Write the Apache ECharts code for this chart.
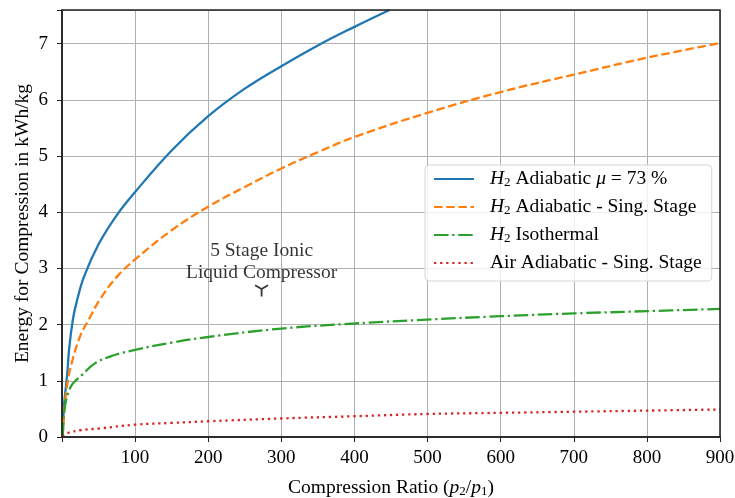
<!DOCTYPE html>
<html>
<head>
<meta charset="utf-8">
<script src="https://cdn.jsdelivr.net/npm/echarts@6/dist/echarts.min.js"></script>
<style>
  html, body { margin: 0; padding: 0; background: #fff; }
  #chart { width: 735px; height: 498px; }
</style>
</head>
<body>
<div id="chart"></div>
<script>
// values
var ratioBlue = [1, 2, 3, 5, 7, 10, 15, 20, 30, 50, 75, 100, 150, 200, 250, 300, 350, 400, 448];
var energyBlue = [0, 0.4, 0.6, 0.85, 1.1, 1.6, 2.1, 2.4, 2.85, 3.43, 3.95, 4.36, 5.1, 5.71, 6.2, 6.6, 6.97, 7.3, 7.6];

var ratioOrange = [1, 3, 8, 15, 25, 37, 52, 75, 100, 150, 200, 250, 300, 350, 400, 500, 600, 700, 800, 900];
var energyOrange = [0, 0.45, 1.0, 1.4, 1.8, 2.1, 2.45, 2.85, 3.16, 3.68, 4.1, 4.45, 4.78, 5.07, 5.34, 5.77, 6.14, 6.45, 6.75, 7.01];

var ratioGreen = [1, 2, 3, 6, 9, 13, 20, 27, 45, 70, 100, 150, 200, 300, 400, 500, 600, 700, 800, 900];
var energyGreen = [0, 0.3, 0.45, 0.68, 0.8, 0.92, 1.02, 1.1, 1.31, 1.45, 1.55, 1.68, 1.78, 1.93, 2.02, 2.09, 2.15, 2.2, 2.24, 2.28];

var ratioRed = [1, 5, 10, 25, 50, 100, 150, 200, 300, 400, 500, 600, 700, 800, 900];
var energyRed = [0, 0.05, 0.08, 0.12, 0.15, 0.22, 0.25, 0.28, 0.33, 0.37, 0.41, 0.43, 0.45, 0.47, 0.49];

var seriesNames = ['H2 Adiabatic μ = 73 %', 'H2 Adiabatic - Sing. Stage', 'H2 Isothermal', 'Air Adiabatic - Sing. Stage'];
var legendRich = {
  'H2 Adiabatic μ = 73 %': '{i|H}{s|2} Adiabatic {i|μ} = 73 %',
  'H2 Adiabatic - Sing. Stage': '{i|H}{s|2} Adiabatic - Sing. Stage',
  'H2 Isothermal': '{i|H}{s|2} Isothermal',
  'Air Adiabatic - Sing. Stage': 'Air Adiabatic - Sing. Stage'
};

var ionicPoint = [273, 2.6];
var ionicText = '5 Stage Ionic\nLiquid Compressor';

function zip(xs, ys) {
  var out = [];
  for (var i = 0; i < xs.length; i++) out.push([xs[i], ys[i]]);
  return out;
}

var serif = '"Liberation Serif", "DejaVu Serif", serif';
var fs = 19.5;
var richStyles = {
  i: { fontStyle: 'italic', fontFamily: serif, fontSize: fs, color: '#000', lineHeight: 20 },
  s: { fontFamily: serif, fontSize: 13, color: '#000', lineHeight: 20, padding: [7, 0, 0, 0] }
};

function lineSeries(name, data, color, dash) {
  return {
    name: name,
    type: 'line',
    data: data,
    smooth: 0.4,
    symbol: 'none',
    clip: true,
    lineStyle: { color: color, width: 2.3, type: dash, cap: 'butt' },
    itemStyle: { color: color },
    z: 3
  };
}

var chart = echarts.init(document.getElementById('chart'));
var option = {
  animation: false,
  backgroundColor: '#fff',
  grid: {
    left: 62,
    right: 15,
    top: 10,
    bottom: 61,
    outerBoundsMode: 'none',
    show: true,
    borderColor: '#222',
    borderWidth: 1.5,
    z: 5
  },
  legend: {
    data: seriesNames,
    orient: 'vertical',
    left: 425,
    top: 165,
    padding: [4, 10, 8, 8],
    itemWidth: 40,
    itemHeight: 14,
    itemGap: 8,
    itemStyle: { opacity: 0 },
    backgroundColor: 'rgba(255,255,255,0.8)',
    borderColor: '#d5d5d5',
    borderWidth: 1,
    borderRadius: 4,
    formatter: function (name) { return legendRich[name]; },
    textStyle: {
      fontFamily: serif,
      fontSize: fs,
      lineHeight: 20,
      color: '#000',
      padding: [0, 0, 0, 11],
      rich: richStyles
    }
  },
  xAxis: {
    type: 'value',
    min: 0,
    max: 900,
    interval: 100,
    name: 'Compression Ratio ({i|p}{s|2}/{i|p}{s|1})',
    nameLocation: 'middle',
    nameGap: 41,
    nameMoveOverlap: false,
    nameTextStyle: { fontFamily: serif, fontSize: fs, lineHeight: 20, color: '#000', rich: richStyles },
    axisLine: { show: true, onZero: false, lineStyle: { color: '#222', width: 1.5 } },
    axisTick: { show: true, length: 5, lineStyle: { color: '#222', width: 1 } },
    axisLabel: {
      margin: 12,
      fontFamily: serif,
      fontSize: 19,
      color: '#000',
      formatter: function (v) { return v === 0 ? '' : String(v); }
    },
    splitLine: { show: true, lineStyle: { color: '#b0b0b0', width: 1 } }
  },
  yAxis: {
    type: 'value',
    min: 0,
    max: 7.6,
    interval: 1,
    name: 'Energy for Compression in kWh/kg',
    nameLocation: 'middle',
    nameGap: 29,
    nameMoveOverlap: false,
    nameTextStyle: { fontFamily: serif, fontSize: fs, color: '#000' },
    axisLine: { show: true, lineStyle: { color: '#222', width: 1.5 } },
    axisTick: { show: true, length: 5, lineStyle: { color: '#222', width: 1 } },
    axisLabel: {
      margin: 14,
      fontFamily: serif,
      fontSize: 19,
      color: '#000',
      formatter: function (v) { return Math.abs(v - Math.round(v)) < 1e-6 ? String(Math.round(v)) : ''; }
    },
    splitLine: { show: true, lineStyle: { color: '#b0b0b0', width: 1 } }
  },
  series: [
    lineSeries(seriesNames[0], zip(ratioBlue, energyBlue), '#1f77b4', 'solid'),
    lineSeries(seriesNames[1], zip(ratioOrange, energyOrange), '#ff7f0e', [8.5, 3.7]),
    lineSeries(seriesNames[2], zip(ratioGreen, energyGreen), '#2ca02c', [14.5, 3.7, 2.3, 3.7]),
    lineSeries(seriesNames[3], zip(ratioRed, energyRed), '#d62728', [2.3, 3.8]),
    {
      name: 'ionic',
      type: 'scatter',
      data: [ionicPoint],
      symbol: 'path://M0,0L0,10M0,0L-8.66,-5M0,0L8.66,-5',
      symbolSize: 13,
      symbolKeepAspect: true,
      itemStyle: { color: 'transparent', borderColor: '#000', borderWidth: 1.8 },
      label: {
        show: true,
        position: 'top',
        distance: 1,
        formatter: ionicText,
        fontFamily: serif,
        fontSize: fs,
        lineHeight: 22,
        color: '#000',
        align: 'center'
      },
      z: 4
    }
  ]
};
chart.setOption(option);
</script>
</body>
</html>
